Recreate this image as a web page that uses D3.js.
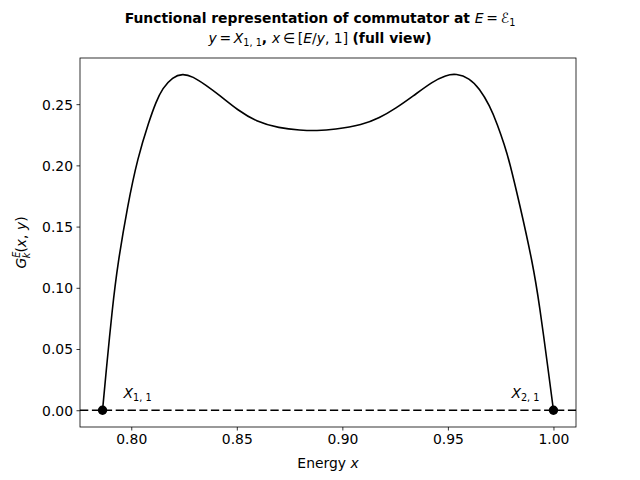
<!DOCTYPE html>
<html>
<head>
<meta charset="utf-8">
<script src="https://cdn.jsdelivr.net/npm/d3@7"></script>
<style>
  body { margin: 0; background: #fff; }
  svg text { font-family: "DejaVu Sans", sans-serif; }
</style>
</head>
<body>
<svg id="chart" width="640" height="480"></svg>
<script>
// ---- data ----
const energyX = [0.7864, 0.7880, 0.7911, 0.7935, 0.7983, 0.8030, 0.8085, 0.8117, 0.8148, 0.8196,
  0.8243, 0.8291, 0.8354, 0.8417, 0.8504, 0.8591, 0.8701, 0.8800, 0.8880, 0.8960,
  0.9096, 0.9175, 0.9254, 0.9333, 0.9428, 0.9491, 0.9539, 0.9602, 0.9649,
  0.9697, 0.9736, 0.9768, 0.9791, 0.9839, 0.9902, 0.9934, 0.9975, 1.0000];
const gValues = [0.0000, 0.0300, 0.0844, 0.1185, 0.1675, 0.2060, 0.2365, 0.2517, 0.2630, 0.2722,
  0.2750, 0.2727, 0.2655, 0.2574, 0.2451, 0.2359, 0.2304, 0.2287, 0.2283, 0.2292,
  0.2331, 0.2386, 0.2467, 0.2563, 0.2686, 0.2737, 0.2750, 0.2713, 0.2628,
  0.2492, 0.2328, 0.2165, 0.2035, 0.1690, 0.1200, 0.0860, 0.0330, 0.0000];
const rootX = [0.7864, 1.0000];
const rootLabels = [["X", "1, 1"], ["X", "2, 1"]];
const xTicks = [0.80, 0.85, 0.90, 0.95, 1.00];
const yTicks = [0.00, 0.05, 0.10, 0.15, 0.20, 0.25];

// ---- layout ----
const L = 80, R = 576, T = 58, B = 427;
const svg = d3.select("#chart");

const xMin = d3.min(energyX), xMax = d3.max(energyX);
const yMin = d3.min(gValues), yMax = 0.2740;
const xPad = (xMax - xMin) * 0.05, yPad = (yMax - yMin) * 0.05;
const x = d3.scaleLinear().domain([xMin - xPad, xMax + xPad]).range([L, R]);
const y = d3.scaleLinear().domain([yMin - yPad, yMax + yPad]).range([B, T]);

// axes
const xAxis = d3.axisBottom(x).tickValues(xTicks).tickFormat(d3.format(".2f")).tickSizeInner(3.5).tickSizeOuter(0).tickPadding(3.5);
const yAxis = d3.axisLeft(y).tickValues(yTicks).tickFormat(d3.format(".2f")).tickSizeInner(3.5).tickSizeOuter(0).tickPadding(3.5);

const gx = svg.append("g").attr("transform", `translate(0,${B})`).call(xAxis);
const gy = svg.append("g").attr("transform", `translate(${L},0)`).call(yAxis);
[gx, gy].forEach(g => {
  g.select(".domain").remove();
  g.selectAll(".tick line").attr("stroke", "#000").attr("stroke-width", 0.8);
  g.selectAll(".tick text").attr("fill", "#000").style("font-size", "13.9px")
    .style("font-family", "DejaVu Sans");
});
gx.selectAll(".tick text").attr("dy", "0.72em");
gy.selectAll(".tick text").attr("dy", "0.35em");

// zero line (dashed)
svg.append("line")
  .attr("x1", L).attr("x2", R)
  .attr("y1", y(0)).attr("y2", y(0))
  .attr("stroke", "#000").attr("stroke-width", 1.5)
  .attr("stroke-dasharray", "8.3,3.6");

// curve
const pts = energyX.map((d, i) => [d, gValues[i]]);
const line = d3.line().x(d => x(d[0])).y(d => y(d[1])).curve(d3.curveBasis);
svg.append("path").datum(pts).attr("d", line)
  .attr("fill", "none").attr("stroke", "#000").attr("stroke-width", 1.6)
  .attr("stroke-linejoin", "round");

// root markers
svg.selectAll("circle.root").data(rootX).enter().append("circle")
  .attr("class", "root")
  .attr("cx", d => x(d)).attr("cy", y(0)).attr("r", 4.7).attr("fill", "#000");

// root labels
const labelAnchor = ["start", "end"];
const labelDx = [21, -14];
rootX.forEach((r, i) => {
  const t = svg.append("text")
    .attr("x", x(r) + labelDx[i]).attr("y", y(0) - 12)
    .attr("text-anchor", labelAnchor[i])
    .style("font-size", "13.9px").attr("fill", "#000");
  t.append("tspan").style("font-style", "oblique").text(rootLabels[i][0]);
  t.append("tspan").attr("dy", 3).style("font-size", "9.7px").text(rootLabels[i][1]);
});

// frame
svg.append("rect").attr("x", L).attr("y", T).attr("width", R - L).attr("height", B - T)
  .attr("fill", "none").attr("stroke", "#000").attr("stroke-width", 0.8);

// x label
const xl = svg.append("text").attr("x", (L + R) / 2).attr("y", 468)
  .attr("text-anchor", "middle").style("font-size", "13.9px").attr("fill", "#000");
xl.append("tspan").text("Energy ");
xl.append("tspan").style("font-style", "oblique").text("x");

// y label
const yl = svg.append("text")
  .attr("transform", `translate(26,${(T + B) / 2}) rotate(-90)`)
  .attr("text-anchor", "middle").style("font-size", "13.9px").attr("fill", "#000");
yl.append("tspan").style("font-style", "oblique").text("G");
yl.append("tspan").attr("dy", -6).style("font-size", "9.7px").style("font-style", "oblique").text("E");
yl.append("tspan").attr("dx", -6.5).attr("dy", 10).style("font-size", "9.7px").style("font-style", "oblique").text("k");
yl.append("tspan").attr("dy", -4).text("(");
yl.append("tspan").style("font-style", "oblique").text("x");
yl.append("tspan").text(", ");
yl.append("tspan").style("font-style", "oblique").text("y");
yl.append("tspan").text(")");

// title (two lines)
const t1 = svg.append("text").attr("x", 320).attr("y", 23).attr("text-anchor", "middle")
  .style("font-size", "13.9px").attr("fill", "#000");
t1.append("tspan").style("font-weight", "bold").text("Functional representation of commutator at ");
t1.append("tspan").style("font-style", "oblique").text("E");
t1.append("tspan").text("\u2009=\u2009");
t1.append("tspan").text("ℰ");
t1.append("tspan").attr("dy", 3).style("font-size", "9.7px").text("1");

const t2 = svg.append("text").attr("x", 320).attr("y", 43).attr("text-anchor", "middle")
  .style("font-size", "13.9px").attr("fill", "#000");
t2.append("tspan").style("font-style", "oblique").text("y");
t2.append("tspan").text("\u2009=\u2009");
t2.append("tspan").style("font-style", "oblique").text("X");
t2.append("tspan").attr("dy", 3).style("font-size", "9.7px").text("1, 1");
t2.append("tspan").attr("dy", -3).style("font-weight", "bold").text(", ");
t2.append("tspan").style("font-style", "oblique").text("x");
t2.append("tspan").text("\u2009∈\u2009[");
t2.append("tspan").style("font-style", "oblique").text("E");
t2.append("tspan").text("/");
t2.append("tspan").style("font-style", "oblique").text("y");
t2.append("tspan").text(", 1] ");
t2.append("tspan").style("font-weight", "bold").text("(full view)");
</script>
</body>
</html>
